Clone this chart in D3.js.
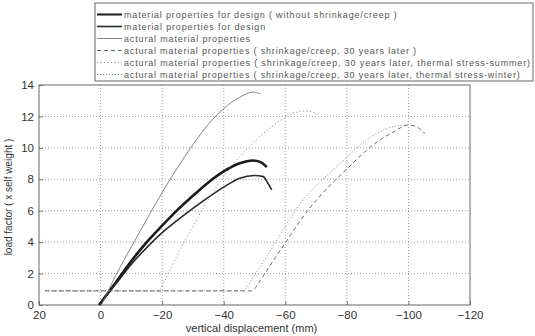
<!DOCTYPE html>
<html>
<head>
<meta charset="utf-8">
<script src="https://cdn.jsdelivr.net/npm/d3@7"></script>
<style>
  body { margin: 0; background: #fff; }
  svg { display: block; font-family: "Liberation Sans", Arial, sans-serif; }
</style>
</head>
<body>
<div id="app"></div>
<script>
// x ticks / y ticks
const xTicks = [20, 0, -20, -40, -60, -80, -100, -120]
const yTicks = [0, 2, 4, 6, 8, 10, 12, 14]

const legendLabels = [
  "material properties for design ( without shrinkage/creep )",
  "material properties for design",
  "actural material properties",
  "actural material properties ( shrinkage/creep, 30 years later )",
  "actural material properties ( shrinkage/creep, 30 years later, thermal stress-summer)",
  "actural material properties ( shrinkage/creep, 30 years later, thermal stress-winter)"
]

// [displacement, load factor]
const designNoCreep = [[0.5, 0], [-5, 1.45], [-10, 2.8], [-15, 4.0], [-20, 5.05], [-25, 6.05],
  [-30, 6.95], [-35, 7.8], [-40, 8.5], [-45, 9.0], [-49.5, 9.2], [-52.3, 9.06], [-54, 8.77]]
const design = [[0.5, 0], [-5, 1.35], [-10, 2.6], [-15, 3.65], [-20, 4.6], [-25, 5.4],
  [-30, 6.15], [-35, 6.85], [-40, 7.5], [-45, 8.05], [-50, 8.24], [-52.9, 8.17], [-54, 7.86], [-55.6, 7.32]]
const actual = [[-0.3, 0], [-5, 1.9], [-10, 3.7], [-15, 5.45], [-20, 7.15], [-25, 8.75],
  [-30, 10.2], [-35, 11.5], [-40, 12.5], [-45, 13.2], [-49.6, 13.55], [-51.8, 13.44]]
const creep30 = [[18, 0.9], [-49, 0.9], [-52, 1.6], [-55, 2.5], [-60, 3.95], [-65, 5.4], [-70, 6.65],
  [-75, 7.7], [-80, 8.65], [-85, 9.6], [-90, 10.4], [-95, 11.0], [-100, 11.45], [-103, 11.3], [-105.4, 10.9]]
const summer = [[18, 0.9], [-18.5, 0.9], [-22, 2.0], [-26, 3.6], [-30, 5.0], [-34, 6.4], [-38, 7.6],
  [-42, 8.7], [-46, 9.6], [-50, 10.4], [-54, 11.1], [-58, 11.7], [-62, 12.15], [-66, 12.35], [-68.5, 12.3], [-70.5, 12.1]]
const winter = [[18, 0.9], [-46, 0.9], [-50, 1.9], [-55, 3.4], [-60, 5.0], [-65, 6.5], [-70, 7.6],
  [-75, 8.5], [-80, 9.4], [-85, 10.3], [-90, 10.95], [-95, 11.35], [-99, 11.45]]

const series = [designNoCreep, design, actual, creep30, summer, winter]
const styles = [
  { w: 2.6, c: "#1a1a1a", dash: null },
  { w: 1.6, c: "#2a2a2a", dash: null },
  { w: 0.8, c: "#666", dash: null },
  { w: 0.9, c: "#555", dash: "4,3" },
  { w: 0.9, c: "#777", dash: "1,2.5" },
  { w: 0.9, c: "#777", dash: "1,2" }
]

const W = 535, H = 336
const m = { left: 39, right: 470, top: 85, bottom: 305 }

const svg = d3.select("#app").append("svg")
  .attr("width", W)
  .attr("height", H)

const fx = d3.scaleLinear().domain([20, -120]).range([m.left, m.right])
const fy = d3.scaleLinear().domain([0, 14]).range([m.bottom, m.top])

// grid
const grid = svg.append("g")
  .attr("stroke", "#888")
  .attr("stroke-width", 0.8)
  .attr("stroke-dasharray", "1,2")
grid.selectAll("line.v")
  .data(xTicks.slice(1, -1))
  .join("line")
    .attr("x1", d => fx(d)).attr("x2", d => fx(d))
    .attr("y1", m.top).attr("y2", m.bottom)
grid.selectAll("line.h")
  .data(yTicks.slice(1, -1))
  .join("line")
    .attr("class", "h")
    .attr("x1", m.left).attr("x2", m.right)
    .attr("y1", d => fy(d)).attr("y2", d => fy(d))

// axes (labels only; ticks inside)
const gx = svg.append("g")
  .attr("transform", `translate(0,${m.bottom})`)
  .call(d3.axisBottom(fx).tickValues(xTicks).tickSizeInner(-4).tickSizeOuter(0).tickPadding(6))
const gy = svg.append("g")
  .attr("transform", `translate(${m.left},0)`)
  .call(d3.axisLeft(fy).tickValues(yTicks).tickSizeInner(-4).tickSizeOuter(0).tickPadding(5))
for (const g of [gx, gy]) {
  g.select(".domain").remove()
  g.selectAll(".tick line").attr("stroke", "#777")
  g.selectAll("text").attr("fill", "#333").style("font-size", "11.5px")
}

// frame
svg.append("rect")
  .attr("x", m.left).attr("y", m.top)
  .attr("width", m.right - m.left).attr("height", m.bottom - m.top)
  .attr("fill", "none").attr("stroke", "#666").attr("stroke-width", 1)

// curves
const line = d3.line()
  .x(d => fx(d[0]))
  .y(d => fy(d[1]))
  .curve(d3.curveMonotoneX)

svg.append("g")
  .attr("fill", "none")
  .selectAll("path")
  .data(series)
  .join("path")
    .attr("d", line)
    .attr("stroke", (d, i) => styles[i].c)
    .attr("stroke-width", (d, i) => styles[i].w)
    .attr("stroke-dasharray", (d, i) => styles[i].dash)

// axis titles
svg.append("text")
  .attr("x", (m.left + m.right) / 2 - 3).attr("y", 332)
  .attr("text-anchor", "middle")
  .attr("fill", "#333")
  .style("font-size", "11px")
  .text("vertical displacement (mm)")
svg.append("text")
  .attr("transform", `translate(12,${(m.top + m.bottom) / 2 + 2}) rotate(-90)`)
  .attr("text-anchor", "middle")
  .attr("fill", "#333")
  .style("font-size", "10px")
  .text("load factor ( x self weight )")

// legend
const leg = svg.append("g")
leg.append("rect")
  .attr("x", 95).attr("y", 3).attr("width", 438).attr("height", 78)
  .attr("fill", "#fff").attr("stroke", "#666").attr("stroke-width", 1)
const rows = leg.selectAll("g.row")
  .data(legendLabels)
  .join("g")
    .attr("class", "row")
    .attr("transform", (d, i) => `translate(0,${14.5 + i * 12})`)
rows.append("line")
  .attr("x1", 97).attr("x2", 122)
  .attr("stroke", (d, i) => styles[i].c)
  .attr("stroke-width", (d, i) => Math.min(styles[i].w, 2))
  .attr("stroke-dasharray", (d, i) => styles[i].dash)
const texts = rows.append("text")
  .attr("x", 124).attr("dy", "0.35em")
  .attr("fill", "#555")
  .style("font-size", "9px")
  .text(d => d)

// the reference legend font runs wider; stretch spacing so the longest row ends near the box edge
const lens = texts.nodes().map(n => n.getComputedTextLength())
const k = 406 / d3.max(lens)
texts.attr("textLength", (d, i) => lens[i] * k).attr("lengthAdjust", "spacing")
</script>
</body>
</html>
